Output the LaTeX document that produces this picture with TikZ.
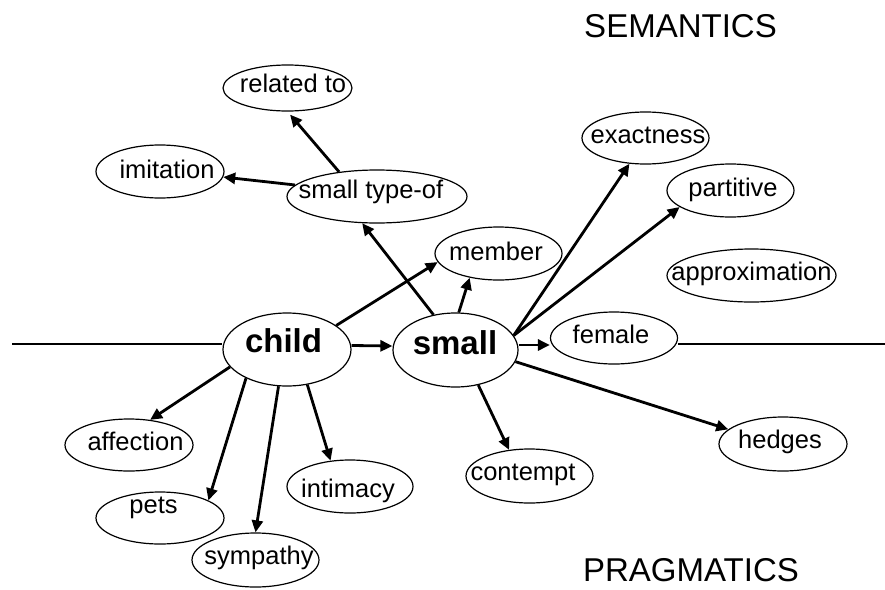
\documentclass[tikz,border=0pt]{standalone}
\usepackage{fontspec}
\setmainfont{Liberation Sans}
\usetikzlibrary{shapes.geometric,arrows.meta}
\begin{document}
\begin{tikzpicture}[x=1pt,y=-1pt,
  el/.style={ellipse,draw,line width=1.2pt,inner sep=0pt},
  lbl/.style={anchor=base,inner sep=0pt,font=\fontsize{25.5}{30}\selectfont},
  blbl/.style={anchor=base,inner sep=0pt,font=\fontsize{33}{38}\selectfont\bfseries},
  head/.style={anchor=base,inner sep=0pt,font=\fontsize{33}{38}\selectfont},
  arr/.style={line width=2.8pt,-{Triangle[length=12pt,width=11pt]}},
  axis/.style={line width=1.8pt}]
\useasboundingbox (0,0) rectangle (885,589);
% ellipses
\node[el,minimum width=128pt,minimum height=73pt] (child) at (287,349.5) {};
\node[el,minimum width=125pt,minimum height=74pt] (small) at (455.5,350) {};
\node[el,minimum width=127pt,minimum height=52pt] (female) at (614,338) {};
\node[el,minimum width=169pt,minimum height=53pt] (approx) at (751.5,275.5) {};
\node[el,minimum width=127pt,minimum height=53pt] (partitive) at (730.5,190.5) {};
\node[el,minimum width=127pt,minimum height=52pt] (exact) at (645.5,138) {};
\node[el,minimum width=127pt,minimum height=53pt] (member) at (498.5,253.5) {};
\node[el,minimum width=180pt,minimum height=53pt] (typeof) at (377,196.5) {};
\node[el,minimum width=128pt,minimum height=53pt] (imitation) at (160,171.5) {};
\node[el,minimum width=129pt,minimum height=46pt] (related) at (287.5,88) {};
\node[el,minimum width=128pt,minimum height=52pt] (affection) at (129,445) {};
\node[el,minimum width=128pt,minimum height=52pt] (pets) at (160,518) {};
\node[el,minimum width=127pt,minimum height=54pt] (sympathy) at (255.5,560) {};
\node[el,minimum width=126pt,minimum height=53pt] (intimacy) at (350,486.5) {};
\node[el,minimum width=127pt,minimum height=54pt] (contempt) at (529.5,476) {};
\node[el,minimum width=128pt,minimum height=54pt] (hedges) at (783,444) {};
% labels
\node[blbl] (t-child) at (283.5,352) {child};
\node[blbl] (t-small) at (455,354) {small};
\node[lbl] (t-female) at (611,343) {female};
\node[lbl] (t-approx) at (751.5,280) {approximation};
\node[lbl] (t-partitive) at (733,196) {partitive};
\node[lbl] (t-exact) at (648,143) {exactness};
\node[lbl] (t-member) at (496,260) {member};
\node[lbl] (t-typeof) at (371,198) {small type-of};
\node[lbl] (t-imitation) at (167,178) {imitation};
\node[lbl] (t-related) at (293,92) {related to};
\node[lbl] (t-affection) at (135.5,450) {affection};
\node[lbl] (t-pets) at (153.5,513) {pets};
\node[lbl] (t-sympathy) at (259,564) {sympathy};
\node[lbl] (t-intimacy) at (348,497) {intimacy};
\node[lbl] (t-contempt) at (523,480) {contempt};
\node[lbl] (t-hedges) at (780,448) {hedges};
\node[head] (semantics) at (680.5,37) {SEMANTICS};
\node[head] (pragmatics) at (691,581) {PRAGMATICS};
% axis line
\coordinate (axl) at (12,344);
\coordinate (axr) at (885,344);
\draw[axis] (axl) -- (axl -| child.west);
\draw[axis] (axr -| female.east) -- (axr);
% arrows
\draw[arr] ([yshift=4pt]child.east) -- ([yshift=4pt]small.west);
\draw[arr] ([yshift=5pt]small.east) -- ([yshift=5pt]small.east -| female.west);
\draw[arr] (small.122) -- (typeof.241);
\draw[arr] (typeof.172) -- (imitation.355);
\draw[arr,shorten >=4pt] (typeof.147) -- (related.south);
\draw[arr] (child.26) -- (member.188);
\draw[arr] (small.85) -- (member.220);
\draw[arr] (small.14) -- (exact.238);
\draw[arr] (small.14) -- (partitive.198);
\draw[arr] (small.-11) -- (hedges.165);
\draw[arr] (small.-57) -- (contempt.128);
\draw[arr] (child.197) -- (affection.50);
\draw[arr] (child.215) -- (pets.20);
\draw[arr] (child.257) -- (sympathy.north);
\draw[arr] (child.300) -- (intimacy.127);
\end{tikzpicture}
\end{document}
